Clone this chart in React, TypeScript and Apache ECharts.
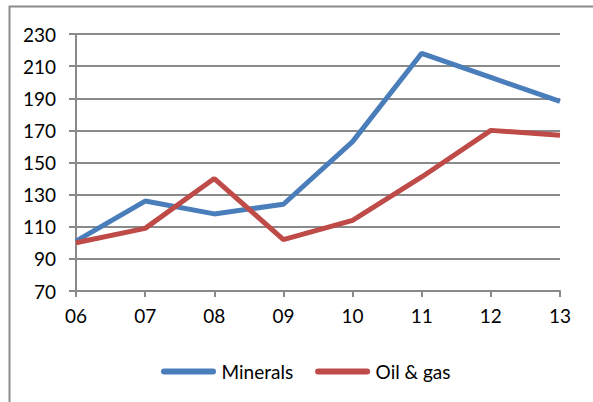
import React, { useEffect, useRef } from "react";
import * as echarts from "echarts";

const years = ["06", "07", "08", "09", "10", "11", "12", "13"];
const minerals = [101, 126, 118, 124, 163, 218, 203, 188];
const oilGas = [100, 109, 140, 102, 114, 141, 170, 167];
const seriesNames = ["Minerals", "Oil & gas"];

const FONT = "Lato";

export default function App() {
  const ref = useRef<HTMLDivElement>(null);
  useEffect(() => {
    if (!ref.current) return;
    const chart = echarts.init(ref.current, null, { renderer: "svg" });
    const capsule = "path://M3,0 H52 A3,3 0 0 1 52,6 H3 A3,3 0 0 1 3,0 Z";
    chart.setOption({
      animation: false,
      backgroundColor: "#ffffff",
      grid: { left: 76, right: 33, top: 34, bottom: 111 },
      graphic: [
        {
          type: "rect",
          left: 7,
          top: 4,
          shape: { x: 0, y: 0, width: 620, height: 430 },
          style: { fill: "none", stroke: "#8c8c8c", lineWidth: 2 },
          z: -1,
        },
      ],
      legend: {
        left: 156,
        top: 357,
        itemWidth: 56,
        itemHeight: 6,
        itemGap: 22,
        data: [
          { name: seriesNames[0], icon: capsule },
          { name: seriesNames[1], icon: capsule },
        ],
        textStyle: { fontFamily: FONT, fontSize: 19, color: "#000" },
      },
      xAxis: {
        type: "category",
        data: years,
        boundaryGap: false,
        axisLine: { lineStyle: { color: "#8a8a8a", width: 2 } },
        axisTick: { length: 6, lineStyle: { color: "#8a8a8a", width: 2 } },
        axisLabel: { fontFamily: FONT, fontSize: 19, color: "#000", margin: 15 },
        splitLine: { show: false },
      },
      yAxis: {
        type: "value",
        min: 70,
        max: 230,
        interval: 20,
        axisLine: { show: true, lineStyle: { color: "#8a8a8a", width: 2 } },
        axisTick: { show: true, length: 7, lineStyle: { color: "#8a8a8a", width: 2 } },
        axisLabel: { fontFamily: FONT, fontSize: 19, color: "#000", margin: 20 },
        splitLine: { show: true, lineStyle: { color: "#8a8a8a", width: 2 } },
      },
      series: [
        {
          name: seriesNames[0],
          type: "line",
          data: minerals,
          symbol: "none",
          color: "#4a7ebb",
          lineStyle: { width: 5, color: "#4a7ebb" },
        },
        {
          name: seriesNames[1],
          type: "line",
          data: oilGas,
          symbol: "none",
          color: "#be4b48",
          lineStyle: { width: 5, color: "#be4b48" },
        },
      ],
    });
    return () => chart.dispose();
  }, []);
  return (
    <div
      ref={ref}
      style={{ position: "fixed", left: 0, top: 0, width: 593, height: 402 }}
    />
  );
}
